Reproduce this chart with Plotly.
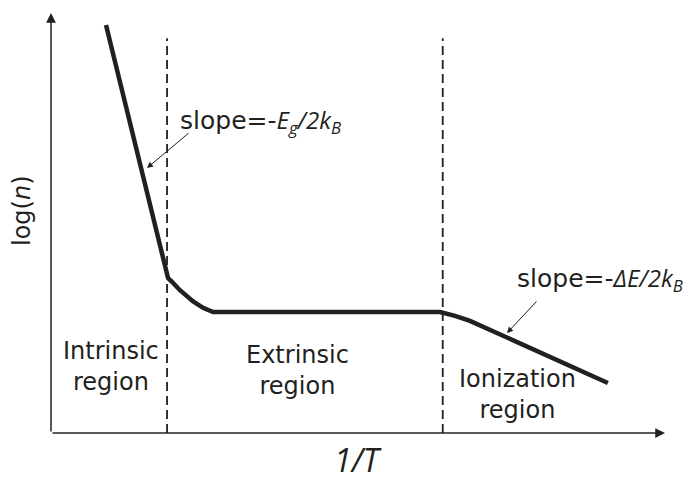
import plotly.graph_objects as go

# Schematic curve: log(n) vs 1/T (arbitrary units, 0..10)
inv_T = [0.896, 1.906, 1.97, 2.10, 2.31, 2.476, 2.64, 6.336, 6.58, 6.824, 9.07]
log_n = [9.714, 3.69, 3.60, 3.40, 3.14, 2.98, 2.88, 2.88, 2.79, 2.67, 1.19]

# Region boundaries (1/T values) and dashed-line top
boundaries = [1.89, 6.38]
boundary_top = 9.4

# Region labels: (text, x, y)
region_labels = [
    ("Intrinsic<br>region", 0.98, 1.58),
    ("Extrinsic<br>region", 4.02, 1.50),
    ("Ionization<br>region", 7.6, 0.92),
]

INK = "#231f20"

fig = go.Figure()

fig.add_trace(go.Scatter(
    x=inv_T, y=log_n, mode="lines",
    line=dict(color=INK, width=4.5),
    hoverinfo="skip", showlegend=False,
))

for bx in boundaries:
    fig.add_trace(go.Scatter(
        x=[bx, bx], y=[0, boundary_top], mode="lines",
        line=dict(color=INK, width=1.8, dash="9px,5px"),
        hoverinfo="skip", showlegend=False,
    ))

annotations = []
# axis arrows
annotations.append(dict(x=10, y=0, ax=0, ay=0, xref="x", yref="y", axref="x", ayref="y",
                        text="", showarrow=True, arrowhead=2, arrowsize=1.3, arrowwidth=1.5,
                        arrowcolor=INK, standoff=0))
annotations.append(dict(x=0, y=10, ax=0, ay=0, xref="x", yref="y", axref="x", ayref="y",
                        text="", showarrow=True, arrowhead=2, arrowsize=1.3, arrowwidth=1.5,
                        arrowcolor=INK, standoff=0))
# slope pointer arrows
annotations.append(dict(x=1.564, y=6.31, ax=2.264, ay=7.167, xref="x", yref="y", axref="x", ayref="y",
                        text="", showarrow=True, arrowhead=2, arrowsize=1.2, arrowwidth=1,
                        arrowcolor=INK, standoff=0))
annotations.append(dict(x=7.427, y=2.381, ax=7.93, ay=3.167, xref="x", yref="y", axref="x", ayref="y",
                        text="", showarrow=True, arrowhead=2, arrowsize=1.2, arrowwidth=1,
                        arrowcolor=INK, standoff=0))

for txt, x, y in region_labels:
    annotations.append(dict(x=x, y=y, xref="x", yref="y", text=txt, showarrow=False,
                            font=dict(family="DejaVu Sans", size=24, color=INK),
                            xanchor="center", yanchor="middle"))

annotations.append(dict(
    x=2.07, y=7.42, xref="x", yref="y", xanchor="left", yanchor="middle", showarrow=False,
    text="slope=-<span style='font-family:Open Sans;font-size:24px'><i>E<sub>g</sub>/2k<sub>B</sub></i></span>",
    font=dict(family="DejaVu Sans", size=25, color=INK)))
annotations.append(dict(
    x=7.56, y=3.66, xref="x", yref="y", xanchor="left", yanchor="middle", showarrow=False,
    text="slope=-<span style='font-family:Open Sans;font-size:24px'><i>ΔE/2k<sub>B</sub></i></span>",
    font=dict(family="DejaVu Sans", size=25, color=INK)))

# axis titles
annotations.append(dict(x=0.5, y=0, xref="paper", yref="paper", yshift=-26, showarrow=False,
                        text="<i>1/T</i>", font=dict(family="Open Sans", size=32, color=INK),
                        xanchor="center", yanchor="middle"))
annotations.append(dict(x=0, y=0.5, xref="paper", yref="paper", xshift=-29, yshift=12, showarrow=False,
                        text="log(<i>n</i>)", textangle=-90,
                        font=dict(family="DejaVu Sans", size=24, color=INK),
                        xanchor="center", yanchor="middle"))

fig.update_layout(
    width=694, height=477,
    margin=dict(l=51, r=29, t=13, b=44),
    paper_bgcolor="white", plot_bgcolor="white",
    xaxis=dict(range=[0, 10], showgrid=False, zeroline=False, showticklabels=False,
               showline=False, ticks=""),
    yaxis=dict(range=[0, 10], showgrid=False, zeroline=False, showticklabels=False,
               showline=False, ticks=""),
    annotations=annotations,
    showlegend=False,
)

fig.write_html("out.html", config={"displayModeBar": False},
               post_script="document.body.style.margin='0';")
